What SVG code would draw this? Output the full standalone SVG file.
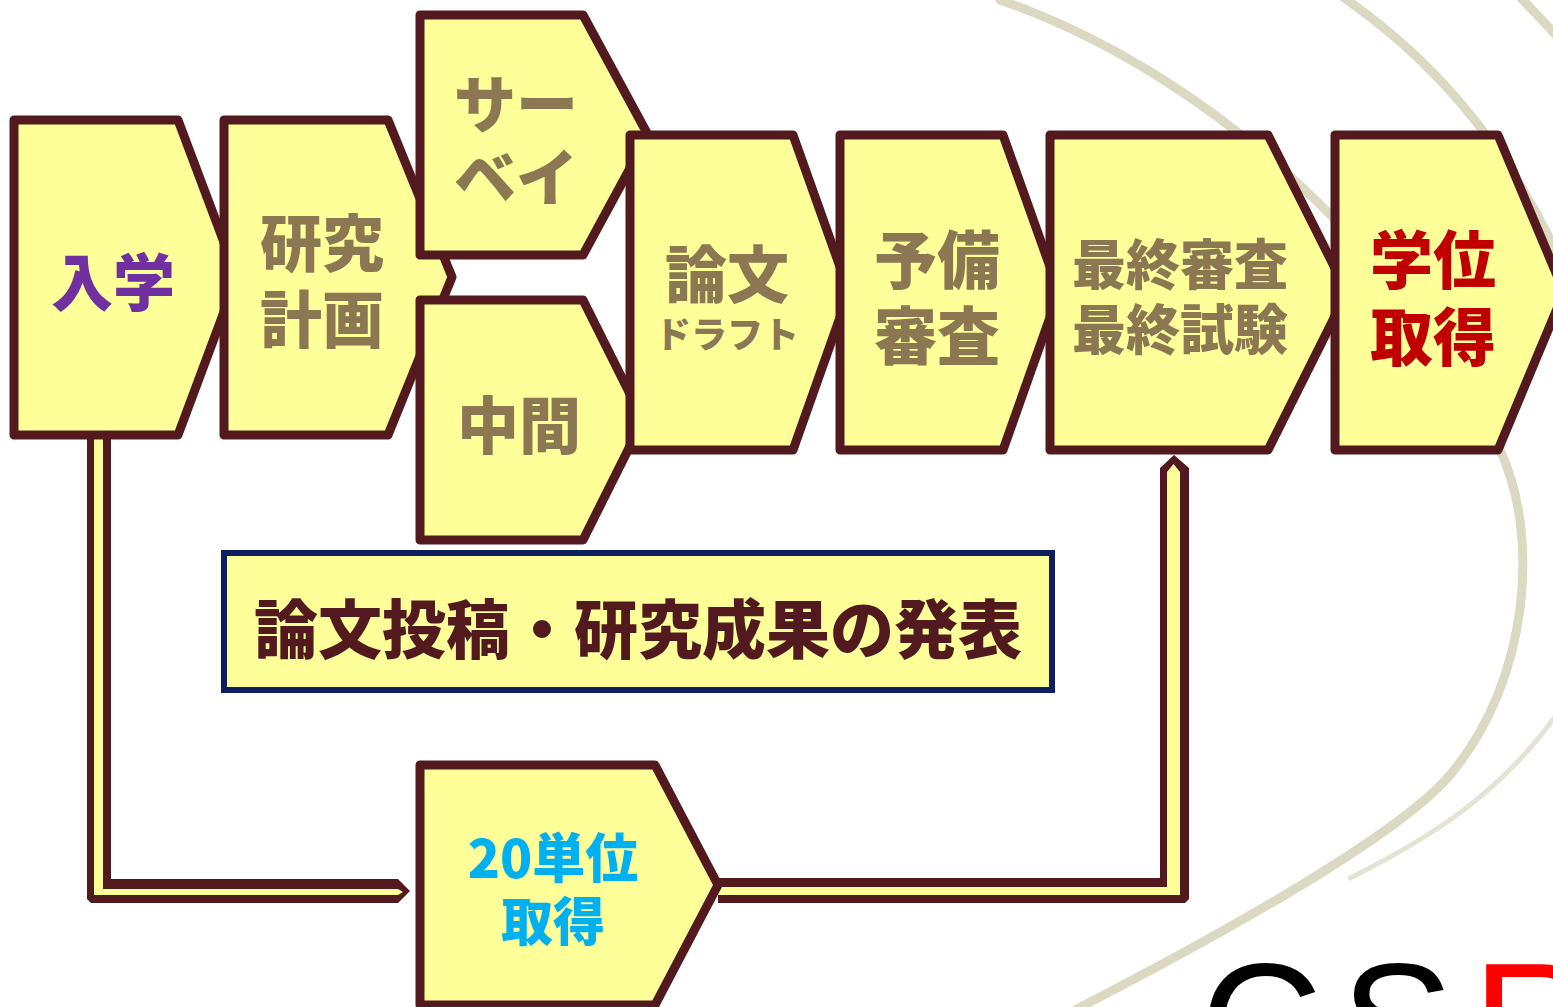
<svg xmlns="http://www.w3.org/2000/svg" width="1553" height="1007" viewBox="0 0 1553 1007">
<style>
.arc{fill:none;stroke:#dcd9c3;stroke-width:9;stroke-linecap:round}
.node polygon{fill:#ffff99;stroke:#521a1f;stroke-width:9;stroke-linejoin:round}
.t{font-family:"Noto Sans CJK JP","Noto Sans",sans-serif;font-weight:900;text-anchor:middle;dominant-baseline:central}
.brown{fill:#8b7853}
.pipe-out{fill:#521a1f}
.pipe-in{fill:#ffff99}
</style>
<rect width="1553" height="1007" fill="#ffffff"/>
<g id="background">
<path class="arc" d="M1000,0 C1230,80 1420,280 1500,450 C1540,535 1530,680 1450,775 C1400,834 1230,930 1075,1010"/>
<path class="arc" d="M1560,710 C1500,795 1430,838 1350,878" style="stroke:#e6e3d4;stroke-width:5"/>
<path class="arc" d="M1340,-5 C1420,50 1500,130 1560,260"/>
<path class="arc" d="M1518,-5 C1530,8 1545,22 1560,40"/>
<text x="1200" y="1082" font-family="'Liberation Sans',Arial,sans-serif" font-size="170" letter-spacing="18"><tspan fill="#000000">CS</tspan><tspan fill="#ff0000">R</tspan></text>
</g>
<g id="connectors">
<g id="pipe-entry-to-credits">
<polygon class="pipe-out" points="87,436 111,436 111,879 398,879 410,891 398,903 91,903 87,899"/>
<polygon class="pipe-in" points="94,436 103,436 103,889 398,889 403,892 398,895 94,895"/>
</g>
<g id="pipe-credits-to-final">
<polygon class="pipe-out" points="718,878 1160,878 1160,468 1174,455 1189,468 1189,899 1185,903 718,903"/>
<polygon class="pipe-in" points="718,887 1167,887 1167,472 1173.5,464 1180,472 1180,895 718,895"/>
</g>
</g>
<g id="node-nyugaku" class="node">
<polygon points="14,120 178,120 237,277 178,435 14,435"/>
<text class="t" x="113" y="279" font-size="62" fill="#7030a0">入学</text>
</g>
<g id="node-kenkyu-keikaku" class="node">
<polygon points="224,120 388,120 452,277 388,435 224,435"/>
<text class="t brown" x="322" y="240" font-size="62">研究</text>
<text class="t brown" x="322" y="316" font-size="62">計画</text>
</g>
<g id="node-survey" class="node">
<polygon points="420,15 583,15 648,135 583,255 420,255"/>
<text class="t brown" x="516" y="101" font-size="62">サー</text>
<text class="t brown" x="516" y="174" font-size="62">ベイ</text>
</g>
<g id="node-chukan" class="node">
<polygon points="420,300 583,300 643,420 583,540 420,540"/>
<text class="t brown" x="519" y="422" font-size="62">中間</text>
</g>
<g id="node-ronbun" class="node">
<polygon points="630,135 793,135 849,292 793,450 630,450"/>
<text class="t brown" x="727" y="271" font-size="62">論文</text>
<text class="t brown" x="727" y="332" font-size="36">ドラフト</text>
</g>
<g id="node-yobi" class="node">
<polygon points="840,135 1003,135 1059,292 1003,450 840,450"/>
<text class="t brown" x="937" y="255" font-size="63">予備</text>
<text class="t brown" x="937" y="331" font-size="63">審査</text>
</g>
<g id="node-saishu" class="node">
<polygon points="1050,135 1268,135 1347,292 1268,450 1050,450"/>
<text class="t brown" x="1180" y="261" font-size="54">最終審査</text>
<text class="t brown" x="1180" y="326" font-size="54">最終試験</text>
</g>
<g id="node-gakui" class="node">
<polygon points="1335,135 1498,135 1564,292 1498,450 1335,450"/>
<text class="t" x="1433" y="255" font-size="63" fill="#c00000">学位</text>
<text class="t" x="1433" y="332" font-size="63" fill="#c00000">取得</text>
</g>
<g id="node-20tani" class="node">
<polygon points="420,765 655,765 718,885 655,1005 420,1005"/>
<text class="t" x="553" y="855" font-size="53" fill="#00b0f0">20単位</text>
<text class="t" x="553" y="918" font-size="52" fill="#00b0f0">取得</text>
</g>
<g id="node-happyo">
<rect x="224" y="553" width="828" height="137" fill="#ffff99" stroke="#0d1f5c" stroke-width="6"/>
<text class="t" x="638" y="625" font-size="64" fill="#521a1f">論文投稿・研究成果の発表</text>
</g>
</svg>
